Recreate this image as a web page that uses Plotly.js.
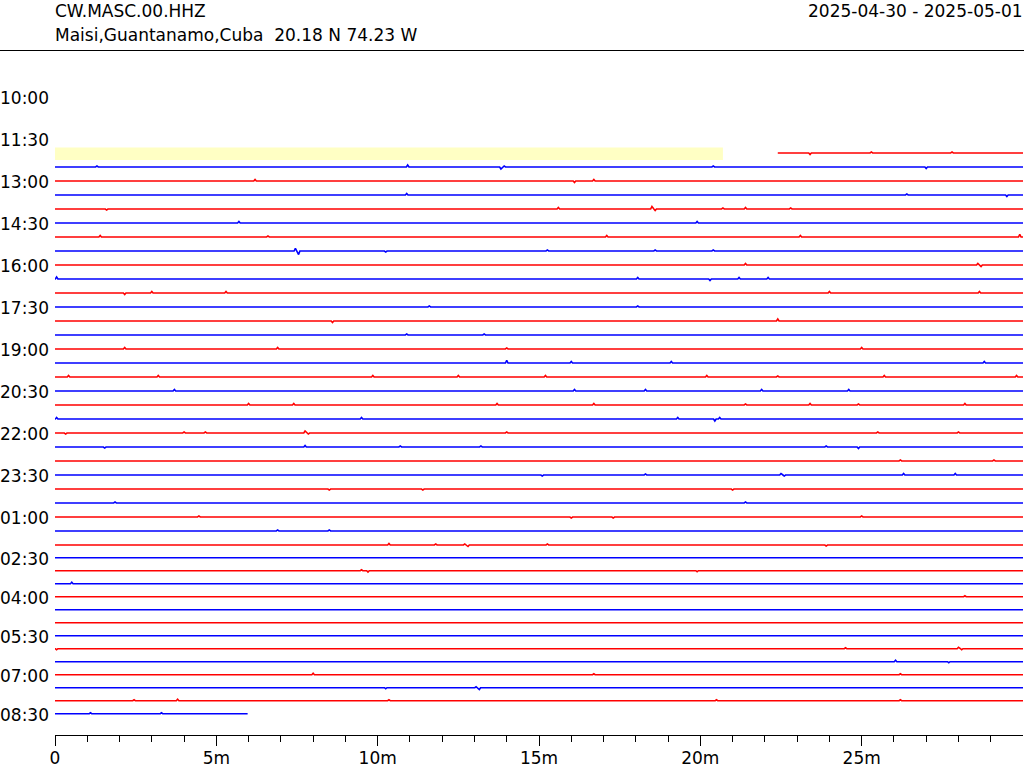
<!DOCTYPE html>
<html>
<head>
<meta charset="utf-8">
<script src="https://cdn.plot.ly/plotly-3.0.1.min.js"></script>
<style>
  html, body { margin: 0; padding: 0; background: #fff; }
  #chart { width: 1024px; height: 768px; }
</style>
</head>
<body>
<div id="chart"></div>
<script>
// ---------------- data ----------------
const stationCode = 'CW.MASC.00.HHZ';
const stationInfo = 'Maisi,Guantanamo,Cuba  20.18 N 74.23 W';
const dateRange = '2025-04-30 - 2025-05-01';

// row labels (every third 30-minute row, starting at 10:00)
const rowLabels = ['10:00','11:30','13:00','14:30','16:00','17:30','19:00','20:30',
                   '22:00','23:30','01:00','02:30','04:00','05:30','07:00','08:30'];

// x axis ticks (minutes within a row)
const xTickVals = [0, 5, 10, 15, 20, 25];
const xTickText = ['0', '5m', '10m', '15m', '20m', '25m'];
const xMinorVals = [1,2,3,4,6,7,8,9,11,12,13,14,16,17,18,19,21,22,23,24,26,27,28,29];

const firstTraceRow = 4;        // the 12:00 row is the first one with data
const firstRowStartMin = 22.4;  // data begins here in the first row
const noDataSpan = [0, 20.7];   // highlighted span in the first row
const lastRowEndMin = 5.97;     // data ends here in the last row (08:30)
const traceColors = ['#ff0000', '#0000ff'];

// visible wiggles per row: [minute, amplitude (about 1 px per unit, + = up)]
const traceEvents = [
  /* 12:00 */ [[23.4,-1.5],[25.3,1],[27.8,1]],
  /* 12:30 */ [[1.3,1],[10.93,2],[13.82,-2],[13.92,1],[20.4,1],[27.0,-1.5]],
  /* 13:00 */ [[6.2,1.5],[16.1,-1.5],[16.7,1.5]],
  /* 13:30 */ [[10.9,1.5],[26.4,1],[29.5,-1.5]],
  /* 14:00 */ [[1.6,-1],[15.6,1.5],[18.5,2.5],[18.6,-1.5],[20.7,1],[21.4,1.5],[22.8,1]],
  /* 14:30 */ [[5.7,1.5],[19.9,1.5]],
  /* 15:00 */ [[1.4,1.5],[6.6,1],[17.1,1.5],[23.1,1.5],[29.9,2.5]],
  /* 15:30 */ [[7.45,2.5],[7.55,-3.5],[10.25,-1],[15.26,1],[18.6,1],[20.4,1]],
  /* 16:00 */ [[21.4,1.5],[28.6,1.5],[28.7,-1.5]],
  /* 16:30 */ [[0.05,2],[18.06,1.5],[20.3,-1.5],[21.2,1.5],[22.1,1.5]],
  /* 17:00 */ [[2.16,-1.5],[3.0,1.5],[5.3,1.5],[24.0,1.5],[28.65,1.5]],
  /* 17:30 */ [[11.6,1],[18.06,1]],
  /* 18:00 */ [[8.6,-1.5],[22.4,2]],
  /* 18:30 */ [[10.9,1],[13.3,1]],
  /* 19:00 */ [[2.16,1.5],[6.9,1.5],[14.0,1],[25.0,1.5]],
  /* 19:30 */ [[14.0,2.5],[16.0,1.5],[19.1,1.5],[28.8,1.5]],
  /* 20:00 */ [[0.42,1.5],[3.2,1.5],[9.85,1.5],[12.5,1.5],[15.2,1.5],[20.2,1.5],[22.4,1],[25.7,1.5],[29.8,1.5]],
  /* 20:30 */ [[3.7,1.5],[16.1,1.5],[18.3,1.5],[21.9,1.5],[24.6,1.5]],
  /* 21:00 */ [[6.0,1.5],[7.4,1.5],[13.7,1.5],[16.7,1.5],[21.4,1],[23.4,1.5],[24.9,1],[28.2,1.5]],
  /* 21:30 */ [[0.05,1.5],[9.5,1.5],[19.3,1.5],[20.45,-2],[20.6,1.5]],
  /* 22:00 */ [[0.33,-1],[4.0,1],[4.66,1],[7.75,2],[7.85,-1],[14.0,1],[25.5,1],[28.0,1]],
  /* 22:30 */ [[1.54,-1],[7.75,1.5],[10.7,1],[13.2,1],[23.9,1],[24.9,-1.5]],
  /* 23:00 */ [[26.2,1],[29.1,1]],
  /* 23:30 */ [[15.1,-1],[18.3,1],[22.5,1.5],[22.6,-1],[26.3,1.5],[27.9,1.5]],
  /* 00:00 */ [[8.5,-1],[11.4,-1],[21.0,-1]],
  /* 00:30 */ [[1.86,1],[21.4,1]],
  /* 01:00 */ [[4.46,1],[16.0,-1],[17.3,-1],[25.0,1]],
  /* 01:30 */ [[6.9,1],[8.5,1]],
  /* 02:00 */ [[10.35,1.5],[11.8,1],[12.7,1],[12.8,-1.5],[15.26,1],[23.9,-1]],
  /* 02:30 */ [],
  /* 03:00 */ [[9.5,1],[9.7,-1.5],[19.9,-1]],
  /* 03:30 */ [[0.52,1.5]],
  /* 04:00 */ [[28.2,1]],
  /* 04:30 */ [],
  /* 05:00 */ [],
  /* 05:30 */ [],
  /* 06:00 */ [[0.05,-1],[24.5,1],[28.0,1.5],[28.1,-1]],
  /* 06:30 */ [[26.05,1.5],[27.7,-1]],
  /* 07:00 */ [[8.0,1.5],[16.7,1],[26.2,1]],
  /* 07:30 */ [[10.25,-1],[13.05,1],[13.15,-2]],
  /* 08:00 */ [[2.45,1],[3.8,1.5],[10.35,1],[20.5,1],[26.2,1]],
  /* 08:30 */ [[1.1,1],[3.3,1]]
];

// ---------------- drawing ----------------
const SPLIT_ROW = 32;        // rows up to this one use the upper axis
const AMP = 0.072;           // row units per amplitude unit
const HALF = 0.04;           // half-width of a wiggle, minutes

// plot area pixel geometry
const M = {l: 55, r: 1, t: 60, b: 33};
const plotH = 768 - M.t - M.b;   // 675
const plotW = 1024 - M.l - M.r;  // 968
const splitPx = 551.5;           // pixel y where the two row axes meet
const splitPaper = (768 - M.b - splitPx) / plotH;
const topRange = [-(97 - M.t) / 14 + (splitPx - M.t) / 14, -(97 - M.t) / 14];
const botBottom = 45 + (768 - M.b - 713.7) / 13;
const botRange = [botBottom, botBottom - (768 - M.b - splitPx) / 13];

const traces = [];
const nRows = traceEvents.length;
for (let k = 0; k < nRows; k++) {
  const row = firstTraceRow + k;
  const start = k === 0 ? firstRowStartMin : 0;
  const end = k === nRows - 1 ? lastRowEndMin : 30;
  const ev = traceEvents[k].filter(e => e[0] >= start && e[0] <= end).sort((a, b) => a[0] - b[0]);
  const xs = [start], ys = [row];
  for (let i = 0; i < ev.length; i++) {
    const [m, a] = ev[i];
    const prev = i > 0 ? ev[i - 1][0] : -1e9;
    const next = i < ev.length - 1 ? ev[i + 1][0] : 1e9;
    if (m - prev > 2.5 * HALF && m - HALF > start) { xs.push(m - HALF); ys.push(row); }
    xs.push(m); ys.push(row - a * AMP);
    if (next - m > 2.5 * HALF && m + HALF < end) { xs.push(m + HALF); ys.push(row); }
  }
  xs.push(end); ys.push(row);
  traces.push({
    type: 'scatter', mode: 'lines', x: xs, y: ys,
    xaxis: 'x', yaxis: row <= SPLIT_ROW ? 'y' : 'y2',
    line: {color: traceColors[k % 2], width: 1.6},
    hoverinfo: 'skip', showlegend: false
  });
}

const font = {family: 'DejaVu Sans, sans-serif', size: 17, color: '#000'};
const annotations = [];
rowLabels.forEach((lab, i) => {
  const row = i * 3;
  annotations.push({
    text: lab, xref: 'paper', x: -M.l / plotW, xanchor: 'left', xshift: -2,
    yref: row <= SPLIT_ROW ? 'y' : 'y2', y: row, yanchor: 'middle', yshift: -1,
    showarrow: false, font: font
  });
});
const pY = px => (768 - M.b - px) / plotH;
annotations.push({text: stationCode, xref: 'paper', x: 0, xanchor: 'left', xshift: -2, yref: 'paper', y: pY(11), yanchor: 'middle', showarrow: false, font: font});
annotations.push({text: stationInfo, xref: 'paper', x: 0, xanchor: 'left', xshift: -2, yref: 'paper', y: pY(35), yanchor: 'middle', showarrow: false, font: font});
annotations.push({text: dateRange, xref: 'paper', x: 1, xanchor: 'right', xshift: 2, yref: 'paper', y: pY(11), yanchor: 'middle', showarrow: false, font: font});

const shapes = [
  {type: 'rect', xref: 'x', yref: 'y', x0: noDataSpan[0], x1: noDataSpan[1],
   y0: firstTraceRow - 0.4, y1: firstTraceRow + 0.5,
   fillcolor: 'rgb(255,255,196)', line: {width: 0}, layer: 'below'},
  {type: 'line', xref: 'paper', yref: 'paper', x0: -M.l / plotW, x1: (1024 - M.l) / plotW,
   y0: pY(50.5), y1: pY(50.5), line: {color: '#000', width: 1}}
];

const layout = {
  width: 1024, height: 768,
  margin: M,
  paper_bgcolor: '#fff', plot_bgcolor: '#fff',
  font: font,
  showlegend: false,
  xaxis: {
    range: [0, 30], anchor: 'y2', domain: [0, 1],
    showgrid: false, zeroline: false, showline: true, linecolor: '#000', linewidth: 1,
    tickmode: 'array', tickvals: xTickVals, ticktext: xTickText,
    ticks: 'outside', ticklen: 10, tickwidth: 1, tickcolor: '#000',
    tickfont: font, ticklabelstandoff: -2,
    minor: {tickmode: 'array', tickvals: xMinorVals, ticks: 'outside', ticklen: 6, tickwidth: 1, tickcolor: '#000', showgrid: false}
  },
  yaxis: {
    domain: [splitPaper, 1], range: topRange, anchor: 'x',
    visible: false, showgrid: false, zeroline: false
  },
  yaxis2: {
    domain: [0, splitPaper], range: botRange, anchor: 'x',
    visible: false, showgrid: false, zeroline: false
  },
  annotations: annotations,
  shapes: shapes
};

Plotly.newPlot('chart', traces, layout, {displayModeBar: false, staticPlot: true});
</script>
</body>
</html>
